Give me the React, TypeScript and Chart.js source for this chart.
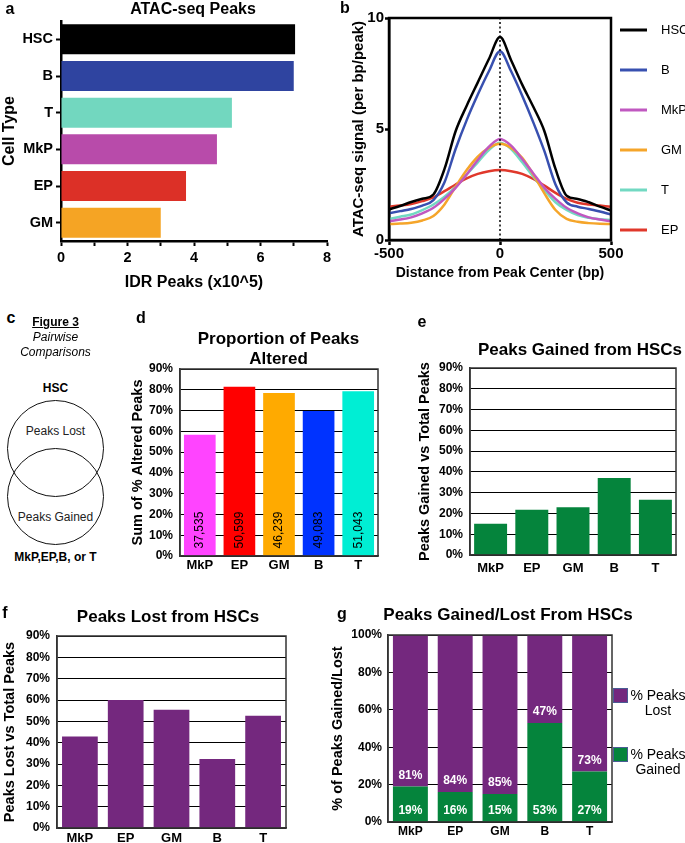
import React, { useEffect, useRef } from 'react';
import { Chart, registerables } from 'chart.js';

Chart.register(...registerables);

const FONT = '"Liberation Sans", Arial, Helvetica, sans-serif';

// ---------- Panel a : ATAC-seq peaks per cell type ----------
const cellTypesA = ['HSC', 'B', 'T', 'MkP', 'EP', 'GM'];
const idrPeaksA = [7.04, 7.0, 5.14, 4.69, 3.76, 3.0];
const colorsA = ['#000000', '#2F44A0', '#72D7BF', '#B84BAA', '#DC3027', '#F5A424'];
const idrTickLabelsA = [0, 2, 4, 6, 8];

// ---------- Panel b : ATAC-seq signal profile ----------
const distanceBp = [-500, -450, -400, -350, -300, -250, -200, -150, -100, -50, 0, 50, 100, 150, 200, 250, 300, 350, 400, 450, 500];
const signalHSC = [1.38, 1.53, 1.71, 1.86, 2.05, 3.2, 4.9, 6.05, 7.1, 8.15, 9.14, 8.1, 7.0, 6.0, 4.9, 3.2, 2.0, 1.85, 1.7, 1.5, 1.33];
const signalB = [1.2, 1.3, 1.4, 1.55, 1.8, 2.6, 4.1, 5.4, 6.55, 7.6, 8.5, 7.6, 6.5, 5.3, 4.0, 2.5, 1.7, 1.5, 1.4, 1.28, 1.15];
const signalMkP = [0.85, 0.92, 1.02, 1.2, 1.45, 1.85, 2.35, 2.95, 3.6, 4.2, 4.55, 4.25, 3.65, 3.0, 2.35, 1.85, 1.45, 1.2, 1.02, 0.92, 0.85];
const signalGM = [0.72, 0.74, 0.78, 0.88, 1.08, 1.6, 2.4, 3.15, 3.75, 4.15, 4.33, 4.15, 3.7, 2.95, 2.1, 1.35, 0.95, 0.82, 0.76, 0.73, 0.72];
const signalT = [0.95, 1.05, 1.15, 1.35, 1.6, 1.95, 2.4, 2.95, 3.5, 4.05, 4.38, 4.1, 3.5, 2.85, 2.25, 1.7, 1.35, 1.12, 1.0, 0.93, 0.9];
const signalEP = [1.5, 1.55, 1.62, 1.75, 1.92, 2.2, 2.5, 2.78, 2.98, 3.1, 3.15, 3.1, 2.98, 2.75, 2.45, 2.12, 1.85, 1.68, 1.6, 1.55, 1.5];
const seriesLabelsB = ['HSC', 'B', 'MkP', 'GM', 'T', 'EP'];
const seriesColorsB = ['#000000', '#3850B0', '#C058C0', '#F5A52A', '#72D9C2', '#E0382B'];
const peakCenterBp = 0;
const signalRangeB = [0, 10];

// ---------- Panels d-g ----------
const catsDG = ['MkP', 'EP', 'GM', 'B', 'T'];
const alteredPct = [58.3, 81.5, 78.5, 69.8, 79.3];
const alteredCounts = ['37,535', '50,599', '46,239', '49,083', '51,043'];
const colorsD = ['#FF44FF', '#FF0000', '#FFAA00', '#0033FF', '#00EED4'];
const gainedPct = [15.1, 21.8, 23.0, 37.1, 26.6];
const lostPct = [42.9, 60.0, 55.4, 32.3, 52.6];
const gainedShare = [19, 16, 15, 53, 27];
const lostShare = [81, 84, 85, 47, 73];

const GREEN = '#05843C';
const PURPLE = '#74287E';

const framePlugin = {
  id: 'frame',
  afterDatasetsDraw(chart: any, _args: any, opts: any) {
    if (!opts || !opts.width) return;
    const { ctx, chartArea } = chart;
    ctx.save();
    ctx.strokeStyle = opts.color;
    ctx.lineWidth = opts.width;
    ctx.strokeRect(chartArea.left, chartArea.top, chartArea.right - chartArea.left, chartArea.bottom - chartArea.top);
    ctx.restore();
  },
};
Chart.register(framePlugin);

const f = (size: number, weight: string = 'bold', lineHeight = 1.2) => ({ family: FONT, size, weight, lineHeight });

// an empty right-hand box that reserves room beside the plot so that the
// full-width title is centred where the reference has it
const spacerAxis = (w: number) => ({
  type: 'linear',
  position: 'right',
  display: true,
  grid: { display: false, drawTicks: false },
  border: { display: false },
  ticks: { display: false },
  afterFit: (s: any) => { s.width = w; },
});

function makeBarConfig(p: any) {
  return {
    type: 'bar',
    data: { labels: p.labels, datasets: p.datasets },
    options: {
      animation: false,
      responsive: false,
      devicePixelRatio: 1,
      layout: { padding: 0 },
      plugins: {
        legend: { display: false },
        tooltip: { enabled: false },
        title: {
          display: true,
          text: p.title,
          color: '#000',
          font: f(17, 'bold', p.titleLH || 1.2),
          padding: p.titlePad,
        },
        frame: { color: '#333', width: 1.5 },
      },
      scales: {
        x: {
          stacked: !!p.stacked,
          grid: { display: false, drawTicks: false },
          border: { display: true, color: '#333', width: 1.5 },
          ticks: { color: '#000', font: f(p.xFont), padding: p.xPad },
          afterFit: (s: any) => { s.height = p.xHeight; },
        },
        y: {
          stacked: !!p.stacked,
          min: 0,
          max: p.yMax,
          grid: { color: '#000', lineWidth: 1, drawTicks: false },
          border: { display: true, color: '#333', width: 1.5 },
          ticks: {
            stepSize: p.yStep,
            color: '#000',
            font: f(12),
            padding: p.yPad,
            callback: (v: any) => v + '%',
          },
          title: {
            display: true,
            text: p.yTitle,
            color: '#000',
            font: f(14.5),
            padding: { top: p.yTitlePad, bottom: 0 },
          },
          afterFit: (s: any) => { s.width = p.yWidth; },
        },
        yRight: spacerAxis(p.rightWidth),
      },
    },
    plugins: p.plugins || [],
  };
}

const Txt = ({ x, y, children, style }: any) => (
  <div
    style={{
      position: 'absolute',
      left: x,
      top: y,
      transform: 'translate(-50%, -50%)',
      whiteSpace: 'nowrap',
      lineHeight: 1,
      color: '#000',
      ...style,
    }}
  >
    {children}
  </div>
);

const canvasBoxes = {
  a: { left: 0, top: 0, width: 386, height: 295 },
  b: { left: 340, top: 0, width: 345, height: 290 },
  d: { left: 128, top: 322, width: 301, height: 258 },
  e: { left: 413, top: 335, width: 334, height: 255 },
  f: { left: 0, top: 600, width: 336, height: 243 },
  g: { left: 325, top: 598, width: 366, height: 245 },
};

export default function App() {
  const refA = useRef<HTMLCanvasElement>(null);
  const refB = useRef<HTMLCanvasElement>(null);
  const refD = useRef<HTMLCanvasElement>(null);
  const refE = useRef<HTMLCanvasElement>(null);
  const refF = useRef<HTMLCanvasElement>(null);
  const refG = useRef<HTMLCanvasElement>(null);

  useEffect(() => {
    const charts: Chart[] = [];

    // ---- a ----
    charts.push(
      new Chart(refA.current as any, {
        type: 'bar',
        data: {
          labels: cellTypesA,
          datasets: [
            { data: idrPeaksA, backgroundColor: colorsA, borderWidth: 0, categoryPercentage: 1, barPercentage: 0.82 },
          ],
        },
        options: {
          indexAxis: 'y',
          animation: false,
          responsive: false,
          devicePixelRatio: 1,
          layout: { padding: 0 },
          plugins: {
            legend: { display: false },
            tooltip: { enabled: false },
            title: {
              display: true,
              text: 'ATAC-seq Peaks',
              color: '#000',
              font: f(16),
              padding: { top: 0.4, bottom: 1.4 },
            },
          },
          scales: {
            x: {
              type: 'linear',
              min: 0,
              max: 8,
              grid: { drawOnChartArea: false, drawTicks: true, tickLength: 5, tickWidth: 2, tickColor: '#000' },
              border: { color: '#000', width: 2.5 },
              ticks: {
                stepSize: 1,
                color: '#000',
                font: f(14.5),
                padding: 3,
                callback: (v: any) => (idrTickLabelsA.includes(v) ? String(v) : ''),
              },
              title: {
                display: true,
                text: 'IDR Peaks (x10^5)',
                color: '#000',
                font: f(16),
                padding: { top: 0, bottom: 2.4 },
              },
              afterFit: (s: any) => { s.height = 54; },
            },
            y: {
              grid: { offset: false, drawOnChartArea: false, drawTicks: true, tickLength: 5, tickWidth: 2, tickColor: '#000' },
              border: { color: '#000', width: 2.5 },
              ticks: { color: '#000', font: f(14.5), padding: 3 },
              title: {
                display: true,
                text: 'Cell Type',
                color: '#000',
                font: f(16),
                padding: { top: 0, bottom: 0 },
              },
              afterFit: (s: any) => { s.width = 61; },
            },
            yRight: spacerAxis(59),
          },
        } as any,
      })
    );

    // ---- b ----
    const seriesB = [signalHSC, signalB, signalMkP, signalGM, signalT, signalEP];
    const legendB = {
      id: 'legendB',
      afterDraw(chart: any) {
        const { ctx, chartArea } = chart;
        ctx.save();
        const items = chart.data.datasets.filter((d: any) => d.label);
        items.forEach((d: any, i: number) => {
          const y = chartArea.top + 12 + i * 40;
          const x0 = chartArea.right + 9;
          ctx.strokeStyle = d.borderColor;
          ctx.lineWidth = 3;
          ctx.beginPath();
          ctx.moveTo(x0, y);
          ctx.lineTo(x0 + 27, y);
          ctx.stroke();
          ctx.fillStyle = '#000';
          ctx.font = `13px ${FONT}`;
          ctx.textAlign = 'left';
          ctx.textBaseline = 'middle';
          ctx.fillText(d.label, x0 + 41, y);
        });
        ctx.restore();
      },
    };
    charts.push(
      new Chart(refB.current as any, {
        type: 'line',
        data: {
          datasets: [
            {
              label: '',
              data: [
                { x: peakCenterBp, y: signalRangeB[0] },
                { x: peakCenterBp, y: signalRangeB[1] },
              ],
              borderColor: '#000',
              borderWidth: 1.5,
              borderDash: [2, 2.5],
              pointRadius: 0,
              fill: false,
            },
            ...seriesB.map((vals, k) => ({
              label: seriesLabelsB[k],
              data: distanceBp.map((x, i) => ({ x, y: vals[i] })),
              borderColor: seriesColorsB[k],
              backgroundColor: seriesColorsB[k],
              borderWidth: 2.5,
              pointRadius: 0,
              cubicInterpolationMode: 'monotone',
              fill: false,
            })),
          ],
        },
        options: {
          animation: false,
          responsive: false,
          devicePixelRatio: 1,
          layout: { padding: { left: 0, top: 18, bottom: 0, right: 74 } },
          plugins: {
            legend: { display: false },
            tooltip: { enabled: false },
            frame: { color: '#000', width: 2.5 },
          },
          scales: {
            x: {
              type: 'linear',
              min: -500,
              max: 500,
              grid: { drawOnChartArea: false, drawTicks: true, tickLength: 5, tickWidth: 2.5, tickColor: '#000' },
              border: { color: '#000', width: 2.5 },
              ticks: { stepSize: 500, color: '#000', font: f(15), padding: 0 },
              title: {
                display: true,
                text: 'Distance from Peak Center (bp)',
                color: '#000',
                font: f(14),
                padding: { top: 0, bottom: 8.6 },
              },
              afterFit: (s: any) => { s.height = 50; },
            },
            y: {
              min: signalRangeB[0],
              max: signalRangeB[1],
              grid: { drawOnChartArea: false, drawTicks: true, tickLength: 4, tickWidth: 2.5, tickColor: '#000' },
              border: { color: '#000', width: 2.5 },
              ticks: { stepSize: 5, color: '#000', font: f(15), padding: 1 },
              title: {
                display: true,
                text: 'ATAC-seq signal (per bp/peak)',
                color: '#000',
                font: f(15),
                padding: { top: 10, bottom: 0 },
              },
              afterFit: (s: any) => { s.width = 49; },
            },
          },
        } as any,
        plugins: [legendB],
      })
    );

    // ---- d ----
    const countsPlugin = {
      id: 'countsD',
      afterDatasetsDraw(chart: any) {
        const { ctx } = chart;
        const ys = chart.scales.y;
        const meta = chart.getDatasetMeta(0);
        ctx.save();
        ctx.fillStyle = '#000';
        ctx.font = `12px ${FONT}`;
        ctx.textAlign = 'center';
        ctx.textBaseline = 'middle';
        meta.data.forEach((bar: any, i: number) => {
          ctx.save();
          ctx.translate(bar.x, ys.getPixelForValue(12.5));
          ctx.rotate(-Math.PI / 2);
          ctx.fillText(alteredCounts[i], 0, 0);
          ctx.restore();
        });
        ctx.restore();
      },
    };
    charts.push(
      new Chart(
        refD.current as any,
        makeBarConfig({
          labels: catsDG,
          datasets: [{ data: alteredPct, backgroundColor: colorsD, borderWidth: 0, categoryPercentage: 1, barPercentage: 0.8 }],
          title: ['Proportion of Peaks', 'Altered'],
          titleLH: 20 / 17,
          titlePad: { top: 7, bottom: 0 },
          yTitle: 'Sum of % Altered Peaks',
          yTitlePad: 1.3,
          yMax: 90,
          yStep: 10,
          yPad: 7,
          yWidth: 52,
          rightWidth: 51,
          xHeight: 24,
          xFont: 13,
          xPad: 1.2,
          plugins: [countsPlugin],
        }) as any
      )
    );

    // ---- e ----
    charts.push(
      new Chart(
        refE.current as any,
        makeBarConfig({
          labels: catsDG,
          datasets: [{ data: gainedPct, backgroundColor: GREEN, borderWidth: 0, categoryPercentage: 1, barPercentage: 0.8 }],
          title: 'Peaks Gained from HSCs',
          titlePad: { top: 4.8, bottom: 7.8 },
          yTitle: 'Peaks Gained vs Total Peaks',
          yTitlePad: 3.3,
          yMax: 90,
          yStep: 10,
          yPad: 7,
          yWidth: 57,
          rightWidth: 71,
          xHeight: 35,
          xFont: 13,
          xPad: 6,
        }) as any
      )
    );

    // ---- f ----
    charts.push(
      new Chart(
        refF.current as any,
        makeBarConfig({
          labels: catsDG,
          datasets: [{ data: lostPct, backgroundColor: PURPLE, borderWidth: 0, categoryPercentage: 1, barPercentage: 0.78 }],
          title: 'Peaks Lost from HSCs',
          titlePad: { top: 6.8, bottom: 8.8 },
          yTitle: 'Peaks Lost vs Total Peaks',
          yTitlePad: 1.3,
          yMax: 90,
          yStep: 10,
          yPad: 7,
          yWidth: 57,
          rightWidth: 50,
          xHeight: 15,
          xFont: 13,
          xPad: 2.2,
        }) as any
      )
    );

    // ---- g ----
    const shareLabels = {
      id: 'shareLabels',
      afterDatasetsDraw(chart: any) {
        const { ctx } = chart;
        const ys = chart.scales.y;
        const meta = chart.getDatasetMeta(0);
        ctx.save();
        ctx.fillStyle = '#fff';
        ctx.font = `bold 12px ${FONT}`;
        ctx.textAlign = 'center';
        ctx.textBaseline = 'middle';
        meta.data.forEach((bar: any, i: number) => {
          ctx.fillText(gainedShare[i] + '%', bar.x, ys.getPixelForValue(6));
          ctx.fillText(lostShare[i] + '%', bar.x, ys.getPixelForValue(gainedShare[i] + 6));
        });
        ctx.restore();
      },
    };
    const legendG = {
      id: 'legendG',
      afterDraw(chart: any) {
        const { ctx, chartArea } = chart;
        const items = [...chart.data.datasets].reverse();
        ctx.save();
        items.forEach((d: any, i: number) => {
          const boxTop = chartArea.top + 53 + i * 59;
          const x0 = chartArea.right + 1;
          ctx.fillStyle = d.backgroundColor;
          ctx.fillRect(x0, boxTop, 15, 15);
          ctx.strokeStyle = '#4A5C94';
          ctx.lineWidth = 1;
          ctx.strokeRect(x0 + 0.5, boxTop + 0.5, 14, 14);
          ctx.fillStyle = '#000';
          ctx.font = `14px ${FONT}`;
          ctx.textAlign = 'center';
          ctx.textBaseline = 'middle';
          const lines: string[] = d.label;
          lines.forEach((ln, j) => ctx.fillText(ln, x0 + 45, boxTop + 8.5 + j * 15));
        });
        ctx.restore();
      },
    };
    charts.push(
      new Chart(
        refG.current as any,
        makeBarConfig({
          labels: catsDG,
          datasets: [
            { label: ['% Peaks', 'Gained'], data: gainedShare, backgroundColor: GREEN, borderWidth: 0, categoryPercentage: 1, barPercentage: 0.78 },
            { label: ['% Peaks', 'Lost'], data: lostShare, backgroundColor: PURPLE, borderWidth: 0, categoryPercentage: 1, barPercentage: 0.78 },
          ],
          stacked: true,
          title: 'Peaks Gained/Lost From HSCs',
          titlePad: { top: 6.8, bottom: 9.8 },
          yTitle: '% of Peaks Gained/Lost',
          yTitlePad: 4.3,
          yMax: 100,
          yStep: 20,
          yPad: 6,
          yWidth: 63,
          rightWidth: 79,
          xHeight: 21,
          xFont: 12,
          xPad: 2.8,
          plugins: [shareLabels, legendG],
        }) as any
      )
    );

    return () => charts.forEach((c) => c.destroy());
  }, []);

  const cv = (key: keyof typeof canvasBoxes, ref: any) => {
    const b = canvasBoxes[key];
    return (
      <canvas
        ref={ref}
        width={b.width}
        height={b.height}
        style={{ position: 'absolute', left: b.left, top: b.top, width: b.width, height: b.height }}
      />
    );
  };

  const letter = { fontSize: 16, fontWeight: 'bold' };
  const c12 = { fontSize: 12 };

  return (
    <div
      style={{
        position: 'fixed',
        left: 0,
        top: 0,
        width: 685,
        height: 843,
        overflow: 'hidden',
        background: '#fff',
        fontFamily: FONT,
      }}
    >
      {cv('a', refA)}
      {cv('b', refB)}
      {cv('d', refD)}
      {cv('e', refE)}
      {cv('f', refF)}
      {cv('g', refG)}

      <Txt x={10} y={9} style={letter}>a</Txt>
      <Txt x={345} y={8} style={letter}>b</Txt>
      <Txt x={11} y={318} style={letter}>c</Txt>
      <Txt x={141} y={318} style={letter}>d</Txt>
      <Txt x={422} y={322} style={letter}>e</Txt>
      <Txt x={5} y={613} style={letter}>f</Txt>
      <Txt x={342} y={614} style={letter}>g</Txt>

      {/* panel c diagram */}
      <Txt x={55.5} y={322} style={{ ...c12, fontWeight: 'bold', textDecoration: 'underline' }}>Figure 3</Txt>
      <Txt x={55.5} y={337} style={{ ...c12, fontStyle: 'italic' }}>Pairwise</Txt>
      <Txt x={55.5} y={352} style={{ ...c12, fontStyle: 'italic' }}>Comparisons</Txt>
      <Txt x={55.5} y={388} style={{ ...c12, fontWeight: 'bold' }}>HSC</Txt>
      <div
        style={{
          position: 'absolute', left: 7, top: 400, width: 97, height: 97,
          border: '1.3px solid #111', borderRadius: '50%', boxSizing: 'border-box',
        }}
      />
      <div
        style={{
          position: 'absolute', left: 7, top: 448, width: 97, height: 97,
          border: '1.3px solid #111', borderRadius: '50%', boxSizing: 'border-box',
        }}
      />
      <Txt x={55.5} y={431} style={{ ...c12, color: '#222' }}>Peaks Lost</Txt>
      <Txt x={55.5} y={517} style={{ ...c12, color: '#222' }}>Peaks Gained</Txt>
      <Txt x={55.5} y={557} style={{ ...c12, fontWeight: 'bold' }}>MkP,EP,B, or T</Txt>
    </div>
  );
}
